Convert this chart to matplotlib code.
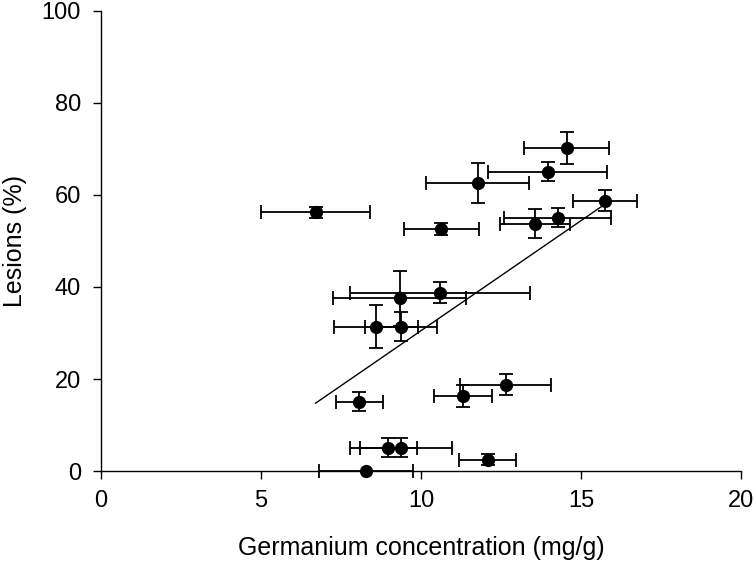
import numpy as np
import matplotlib
matplotlib.use("Agg")
from matplotlib import pyplot as plt

# Values
germanium = [6.71, 10.63, 11.77, 14.55, 13.95, 15.73, 14.27, 13.56, 9.34, 10.59,
             8.59, 9.375, 8.07, 11.32, 12.65, 8.98, 9.375, 12.08, 8.28]
germanium_err = [1.70, 1.17, 1.60, 1.33, 1.85, 1.00, 1.67, 1.09, 2.08, 2.82,
                 1.31, 1.11, 0.73, 0.90, 1.42, 0.89, 1.60, 0.90, 1.47]
lesions = [56.2, 52.6, 62.6, 70.2, 65.1, 58.8, 55.1, 53.8, 37.5, 38.8,
           31.4, 31.4, 15.1, 16.3, 18.8, 5.07, 5.07, 2.5, 0.0]
lesions_err = [1.2, 1.4, 4.3, 3.5, 2.0, 2.35, 2.0, 3.1, 6.0, 2.35,
               4.7, 3.15, 2.0, 2.35, 2.35, 2.0, 2.0, 1.3, 0.0]

# Fitted line
fit_slope = 4.79
fit_intercept = -17.4

X_TICKS = [0, 5, 10, 15, 20]
Y_TICKS = [0, 20, 40, 60, 80, 100]

plt.rcParams['font.family'] = ['Liberation Sans', 'DejaVu Sans']

fig = plt.figure(figsize=(7.55, 5.63), dpi=100)
ax = fig.add_axes([0.1332, 0.1634, 0.8488, 0.8171])

ax.errorbar(germanium, lesions, xerr=germanium_err, yerr=lesions_err,
            fmt='o', color='black', markersize=8.5, elinewidth=1.3,
            capsize=5, capthick=1.3, clip_on=False, zorder=3)

x_line = np.array([min(germanium), max(germanium)])
ax.plot(x_line, fit_slope * x_line + fit_intercept, color='black', linewidth=1.0)

ax.set_xlim(0, 20)
ax.set_ylim(0, 100)
ax.set_xticks(X_TICKS)
ax.set_yticks(Y_TICKS)
ax.spines['top'].set_visible(False)
ax.spines['right'].set_visible(False)
for s in ['left', 'bottom']:
    ax.spines[s].set_linewidth(1.0)
ax.tick_params(direction='out', length=6, width=1.0, labelsize=17, pad=8)

ax.set_xlabel("Germanium concentration (mg/g)", fontsize=18, labelpad=17)
ax.set_ylabel("Lesions (%)", fontsize=18, va='center')
# centre of the y label about 15 px from the left edge, as in the reference
ax.yaxis.set_label_coords(-0.133, 0.5)

fig.savefig("out.png", dpi=100)
